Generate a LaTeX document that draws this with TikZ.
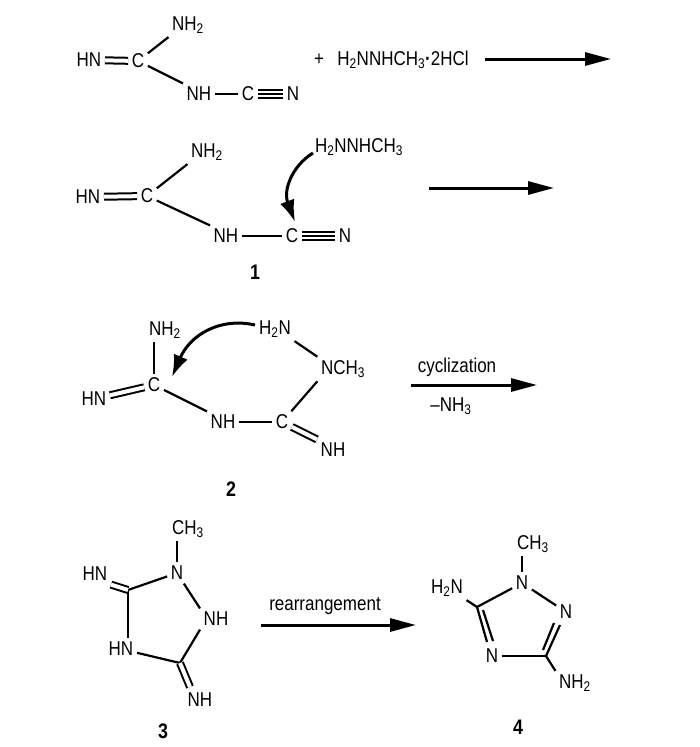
\documentclass[tikz,border=0pt]{standalone}
\usepackage{fontspec}
\setmainfont[FakeStretch=0.85]{Liberation Sans}
\usetikzlibrary{arrows.meta}
\tikzset{
    atom/.style = {font=\fontsize{20}{20}\selectfont, inner sep=3.5pt},
    cpd/.style = {font=\fontsize{21}{21}\selectfont\bfseries, inner sep=0pt},
    txt/.style = {font=\fontsize{20}{20}\selectfont, inner sep=0pt},
    bond/.style = {draw, line width=2.2pt},
    dbond/.style = {draw, double, double distance=4pt, line width=2pt},
    tbond/.style = {draw, double, double distance=6pt, line width=1.8pt},
    rxn/.style = {draw, line width=3pt, -{Triangle[length=26pt,width=13pt]}},
    push/.style = {draw, line width=3pt, -{Latex[length=22pt,width=15pt]}}
}
\newcommand{\ssub}[1]{\textsubscript{#1}}
\begin{document}
\begin{tikzpicture}[x=1pt,y=-1pt]
    \useasboundingbox (0,0) rectangle (700,747);
    % reactants
    \node[atom] (hnA) at (89,60) {HN};
    \node[atom] (cA) at (138,61) {C};
    \node[atom] (nhhA) at (188,25) {NH\ssub{2}};
    \node[atom] (nhA) at (199,94) {NH};
    \node[atom] (ccA) at (248,94) {C};
    \node[atom] (nA) at (293,94) {N};
    \draw[dbond] (hnA) -- (cA);
    \draw[bond] (cA) -- (nhhA.south west);
    \draw[bond] (cA) -- (nhA.north west);
    \draw[bond] (nhA) -- (ccA);
    \draw[tbond] (ccA) -- (nA);
    \draw[bond] (ccA) -- (nA);
    \node[txt] (plusA) at (319,60) {+};
    \node[txt] (reagA) at (403,60) {H\ssub{2}NNHCH\ssub{3}\textbf{·}2HCl};
    \coordinate (arrAs) at (485,59);
    \coordinate (arrAe) at (611,59);
    \draw[rxn] (arrAs) -- (arrAe);
    % compound 1
    \node[atom] (hnB) at (88,197) {HN};
    \node[atom] (cB) at (147,196) {C};
    \node[atom] (nhhB) at (207,152) {NH\ssub{2}};
    \node[atom] (nhB) at (226,236) {NH};
    \node[atom] (ccB) at (292,236) {C};
    \node[atom] (nB) at (345,236) {N};
    \draw[dbond] (hnB) -- (cB);
    \draw[bond] (cB) -- (nhhB.south west);
    \draw[bond] (cB) -- (nhB.north west);
    \draw[bond] (nhB) -- (ccB);
    \draw[tbond] (ccB) -- (nB);
    \draw[bond] (ccB) -- (nB);
    \node[txt] (reagB) at (359,147) {H\ssub{2}NNHCH\ssub{3}};
    \coordinate (pushBs) at (313,153);
    \coordinate (pushBe) at (295,222);
    \draw[push] (pushBs) .. controls (292,166) and (283,190) .. (pushBe);
    \node[cpd] (lblB) at (255,272) {1};
    \coordinate (arrBs) at (429,188);
    \coordinate (arrBe) at (554,188);
    \draw[rxn] (arrBs) -- (arrBe);
    % compound 2
    \node[atom] (hnC) at (94,399) {HN};
    \node[atom] (cC) at (154,385) {C};
    \node[atom] (nhhC) at (165,330) {NH\ssub{2}};
    \node[atom] (nhC) at (223,422) {NH};
    \node[atom] (ccC) at (282,422) {C};
    \node[atom] (iminC) at (333,450) {NH};
    \node[atom] (nC) at (343,369) {NCH\ssub{3}};
    \node[atom] (hhnC) at (275,329) {H\ssub{2}N};
    \draw[dbond] (hnC) -- (cC);
    \draw[bond] (nhhC.south -| cC) -- (cC);
    \draw[bond] (cC) -- (nhC.north west);
    \draw[bond] (nhC) -- (ccC);
    \draw[bond] (ccC) -- (nC.south west);
    \draw[dbond] (ccC) -- (iminC.north west);
    \draw[bond] (hhnC.south east) -- (nC.north west);
    \coordinate (pushCs) at (255,325);
    \coordinate (pushCe) at (172,377);
    \draw[push] (pushCs) .. controls (220,317) and (190,335) .. (pushCe);
    \node[cpd] (lblC) at (231,489) {2};
    \coordinate (arrCs) at (411,385);
    \coordinate (arrCe) at (537,385);
    \draw[rxn] (arrCs) -- (arrCe);
    \node[txt] (upC) at (457,367) {cyclization};
    \node[txt] (downC) at (451,406) {--NH\ssub{3}};
    % compound 3
    \node[atom] (meD) at (188,529) {CH\ssub{3}};
    \node[atom] (nD) at (177,573) {N};
    \node[atom] (hnD) at (95,574) {HN};
    \node[atom] (nhD) at (121,649) {HN};
    \node[atom] (nnD) at (216,619) {NH};
    \node[atom] (iminD) at (200,700) {NH};
    \coordinate (caD) at (128,590);
    \coordinate (cbD) at (180,663);
    \coordinate (ceD) at (190,687);
    \draw[bond] (meD.south -| nD) -- (nD);
    \draw[bond] (caD) -- (nD);
    \draw[bond] (caD) -- (nhD.north -| caD);
    \draw[bond] (nhD) -- (cbD);
    \draw[bond] (cbD) -- (nnD.south west);
    \draw[bond] (nD) -- (nnD.north west);
    \draw[dbond] (caD) -- (hnD.south east);
    \draw[dbond] (cbD) -- (ceD);
    \node[cpd] (lblD) at (163,731) {3};
    \coordinate (arrDs) at (261,625);
    \coordinate (arrDe) at (416,625);
    \draw[rxn] (arrDs) -- (arrDe);
    \node[txt] (upD) at (325,606) {rearrangement};
    % compound 4
    \node[atom] (meE) at (533,544) {CH\ssub{3}};
    \node[atom] (nE) at (522,583) {N};
    \node[atom] (hhnE) at (447,588) {H\ssub{2}N};
    \node[atom] (naE) at (566,612) {N};
    \node[atom] (nbE) at (492,656) {N};
    \node[atom] (nhhE) at (575,683) {NH\ssub{2}};
    \coordinate (caE) at (477,607);
    \coordinate (cbE) at (546,656);
    \coordinate (laE) at (487,642);
    \coordinate (lbE) at (483,610);
    \coordinate (lcE) at (493,641);
    \coordinate (raE) at (560,625);
    \coordinate (rbE) at (543,650);
    \coordinate (rcE) at (554,623);
    \draw[bond] (meE.south -| nE) -- (nE);
    \draw[bond] (caE) -- (nE);
    \draw[bond] (caE) -- (hhnE.south east);
    \draw[bond] (nE) -- (naE);
    \draw[bond] (caE) -- (laE);
    \draw[bond] (lbE) -- (lcE);
    \draw[bond] (nbE) -- (cbE);
    \draw[bond] (cbE) -- (raE);
    \draw[bond] (rbE) -- (rcE);
    \draw[bond] (cbE) -- (nhhE.north west);
    \node[cpd] (lblE) at (518,727) {4};
\end{tikzpicture}
\end{document}
